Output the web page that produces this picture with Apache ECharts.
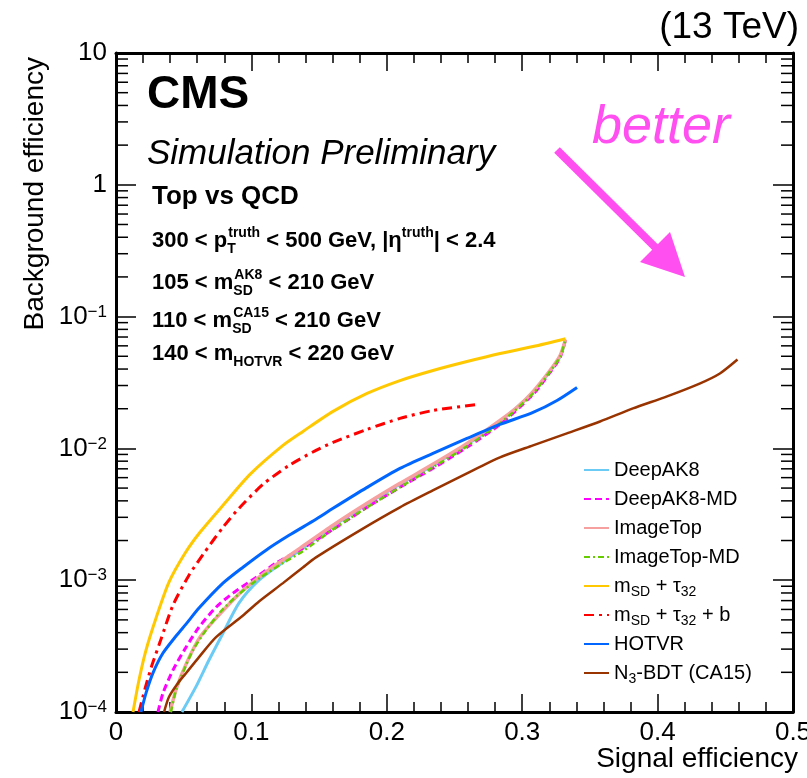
<!DOCTYPE html>
<html>
<head>
<meta charset="utf-8">
<script src="https://cdn.jsdelivr.net/npm/echarts@6/dist/echarts.min.js"></script>
<style>html,body{margin:0;padding:0;background:#fff;}#c{width:807px;height:778px;}</style>
</head>
<body>
<div id="c"></div>
<script>
// ---- data (signal efficiency, background efficiency) ----
const seriesNames = ['DeepAK8','DeepAK8-MD','ImageTop','ImageTop-MD','mSD + τ32','mSD + τ32 + b','HOTVR','N3-BDT (CA15)'];
const deepAK8 = [[0.0487,1.0e-4],[0.059,1.55e-4],[0.0687,2.48e-4],[0.079,3.96e-4],[0.0908,6.7e-4],[0.1056,1.0e-3],[0.1233,1.37e-3],[0.138,1.75e-3],[0.1603,2.57e-3],[0.1854,3.77e-3],[0.2097,5.34e-3],[0.234,7.43e-3],[0.2592,0.0107],[0.2836,0.016],[0.308,0.0266],[0.3205,0.0383],[0.328,0.0497],[0.332,0.067]];
const deepAK8MD = [[0.031,1e-4],[0.0347,1.39e-4],[0.0421,2.08e-4],[0.0517,3.1e-4],[0.0613,4.4e-4],[0.0739,6.24e-4],[0.0864,7.98e-4],[0.1034,1.05e-3],[0.1182,1.35e-3],[0.138,1.75e-3],[0.1603,2.43e-3],[0.1854,3.57e-3],[0.2097,5.07e-3],[0.234,7.05e-3],[0.2592,0.0102],[0.2836,0.0152],[0.308,0.0257],[0.3205,0.0377],[0.328,0.0489],[0.332,0.067]];
const imageTop = [[0.0399,1e-4],[0.045,1.55e-4],[0.0524,2.39e-4],[0.062,3.7e-4],[0.0746,5.25e-4],[0.0916,7.98e-4],[0.1115,1.17e-3],[0.136,1.75e-3],[0.1603,2.61e-3],[0.1854,3.83e-3],[0.2097,5.43e-3],[0.234,7.57e-3],[0.2592,0.0109],[0.2836,0.0163],[0.2962,0.0205],[0.308,0.027],[0.3205,0.039],[0.328,0.0507],[0.332,0.067]];
const imageTopMD = [[0.0406,1e-4],[0.0443,1.47e-4],[0.0502,2.08e-4],[0.0569,2.95e-4],[0.0665,4.18e-4],[0.0783,5.93e-4],[0.0916,7.98e-4],[0.1063,1.04e-3],[0.1233,1.35e-3],[0.138,1.66e-3],[0.1603,2.43e-3],[0.1854,3.57e-3],[0.2097,5.07e-3],[0.234,7.18e-3],[0.2592,0.01036],[0.2836,0.0155],[0.308,0.0261],[0.3205,0.0383],[0.328,0.0497],[0.332,0.067]];
const msdTau32 = [[0.01256,1e-4],[0.01699,1.75e-4],[0.02216,2.95e-4],[0.02954,5.15e-4],[0.03914,9.66e-4],[0.05096,1.60e-3],[0.06204,2.31e-3],[0.07903,3.70e-3],[0.09897,6.35e-3],[0.1233,0.01054],[0.1381,0.01346],[0.1603,0.0191],[0.1854,0.0261],[0.2097,0.0327],[0.2341,0.039],[0.2592,0.0456],[0.2836,0.0525],[0.308,0.0593],[0.332,0.068]];
const msdTau32b = [[0.01699,1e-4],[0.02216,1.60e-4],[0.02659,2.27e-4],[0.0325,3.39e-4],[0.0421,6.46e-4],[0.0539,1.09e-3],[0.0643,1.57e-3],[0.079,2.52e-3],[0.0908,3.51e-3],[0.1086,5.34e-3],[0.1278,7.43e-3],[0.1477,9.66e-3],[0.1603,0.0111],[0.1854,0.01393],[0.2097,0.01688],[0.2341,0.0194],[0.2666,0.0215]];
const hotvr = [[0.01846,1e-4],[0.02216,1.39e-4],[0.02733,1.98e-4],[0.03471,2.80e-4],[0.04431,3.77e-4],[0.0517,4.64e-4],[0.0613,6.14e-4],[0.079,9.49e-4],[0.0938,1.255e-3],[0.1108,1.69e-3],[0.1278,2.19e-3],[0.1477,2.9e-3],[0.1603,3.51e-3],[0.1854,5.06e-3],[0.2097,7.05e-3],[0.2341,9.17e-3],[0.2592,0.0119],[0.2836,0.0152],[0.308,0.01874],[0.3257,0.0231],[0.3405,0.029]];
const n3bdt = [[0.0355,1e-4],[0.0391,1.3e-4],[0.0458,1.66e-4],[0.0517,1.97e-4],[0.0613,2.61e-4],[0.0739,3.7e-4],[0.0938,5.4e-4],[0.1056,6.9e-4],[0.1233,9.5e-4],[0.138,1.25e-3],[0.1477,1.49e-3],[0.1802,2.39e-3],[0.2097,3.57e-3],[0.234,4.8e-3],[0.2592,6.47e-3],[0.2836,8.55e-3],[0.308,0.01054],[0.333,0.013],[0.3575,0.016],[0.3818,0.0201],[0.407,0.0248],[0.431,0.031],[0.446,0.037],[0.459,0.0472]];
const xTickLabels = ['0','0.1','0.2','0.3','0.4','0.5'];
const yDecades = [-4,-3,-2,-1,0,1];
const yMinorMultipliers = [2,3,4,5,6,7,8,9];

const FONT = "'Liberation Sans', Arial, Helvetica, sans-serif";
const PINK = '#ff4ff0';

const minorTickValues = [];
yDecades.slice(0, -1).forEach(function (d) {
  yMinorMultipliers.forEach(function (m) { minorTickValues.push([0, m * Math.pow(10, d)]); });
});

const chart = echarts.init(document.getElementById('c'), null, {renderer: 'canvas'});

function yLabel(v) {
  const e = Math.round(Math.log10(v));
  if (e === 1) return '{b|10}';
  if (e === 0) return '{b|1}';
  return '{b|10}{s|\u2212' + (-e) + '}';
}

const axisCommon = {
  axisLine: {show: true, onZero: false, lineStyle: {color: '#000', width: 3}},
  splitLine: {show: false}
};

const lineSeries = [
  {name: seriesNames[0], data: deepAK8, color: '#6ccbf5', width: 3, type: 'solid'},
  {name: seriesNames[1], data: deepAK8MD, color: '#ff00ff', width: 3, type: [7, 4]},
  {name: seriesNames[2], data: imageTop, color: '#f7a0a0', width: 3.5, type: 'solid'},
  {name: seriesNames[3], data: imageTopMD, color: '#66cc00', width: 2.5, type: [6, 3, 2, 3]},
  {name: seriesNames[4], data: msdTau32, color: '#ffc800', width: 3, type: 'solid'},
  {name: seriesNames[5], data: msdTau32b, color: '#ff0000', width: 3, type: [10, 5, 3, 5]},
  {name: seriesNames[6], data: hotvr, color: '#0066ff', width: 3, type: 'solid'},
  {name: seriesNames[7], data: n3bdt, color: '#993300', width: 2.5, type: 'solid'}
].map(function (s) {
  return {
    name: s.name, type: 'line', data: s.data, xAxisIndex: 0, yAxisIndex: 0,
    symbol: 'none', smooth: 0.25, color: s.color, clip: true,
    lineStyle: {color: s.color, width: s.width, type: s.type},
    itemStyle: {color: s.color}, z: 3
  };
});

function renderMinor(params, api) {
  const v = api.value(1);
  const pl = api.coord([0, v]);
  const pr = api.coord([0.5, v]);
  return {
    type: 'group', children: [
      {type: 'line', shape: {x1: pl[0], y1: pl[1], x2: pl[0] + 12, y2: pl[1]}, style: {stroke: '#000', lineWidth: 1.5}},
      {type: 'line', shape: {x1: pr[0] - 12, y1: pr[1], x2: pr[0], y2: pr[1]}, style: {stroke: '#000', lineWidth: 1.5}}
    ]
  };
}

const legendRich = {
  sb: {fontSize: 14, fontFamily: FONT, color: '#000', verticalAlign: 'bottom', lineHeight: 12}
};
function legendFmt(name) {
  if (name === 'mSD + τ32') return 'm{sb|SD} + τ{sb|32}';
  if (name === 'mSD + τ32 + b') return 'm{sb|SD} + τ{sb|32} + b';
  if (name === 'N3-BDT (CA15)') return 'N{sb|3}-BDT (CA15)';
  return name;
}

const annRich = {
  n: {fontSize: 22, fontWeight: 'bold', fontFamily: FONT, color: '#000', lineHeight: 30},
  sp: {fontSize: 14, fontWeight: 'bold', fontFamily: FONT, color: '#000', verticalAlign: 'top', lineHeight: 8},
  sb: {fontSize: 14, fontWeight: 'bold', fontFamily: FONT, color: '#000', verticalAlign: 'bottom', lineHeight: 18},
  sbT: {fontSize: 14, fontWeight: 'bold', fontFamily: FONT, color: '#000', verticalAlign: 'bottom', lineHeight: 18, width: 1}
};
function ann(y, text) {
  return {type: 'text', left: 152, top: y, z: 10, style: {text: text, rich: annRich, fontFamily: FONT}};
}

const option = {
  backgroundColor: '#fff',
  animation: false,
  grid: {left: 116, right: 14, top: 53, bottom: 66, containLabel: false, outerBoundsMode: 'none'},
  xAxis: [
    Object.assign({}, axisCommon, {
      type: 'value', position: 'bottom', min: 0, max: 0.5, interval: 0.1,
      axisTick: {show: true, inside: true, length: 18, lineStyle: {color: '#000', width: 1.5}},
      minorTick: {show: true, splitNumber: 5, length: 10, lineStyle: {color: '#000', width: 1.5}},
      axisLabel: {show: true, margin: 8, fontSize: 26, fontFamily: FONT, color: '#000',
        formatter: function (v) { return xTickLabels[Math.round(v * 10)]; }}
    }),
    Object.assign({}, axisCommon, {
      type: 'value', position: 'top', min: 0, max: 0.5, interval: 0.1,
      axisTick: {show: true, inside: true, length: 18, lineStyle: {color: '#000', width: 1.5}},
      minorTick: {show: true, splitNumber: 5, length: 10, lineStyle: {color: '#000', width: 1.5}},
      axisLabel: {show: false}
    })
  ],
  yAxis: [
    Object.assign({}, axisCommon, {
      type: 'log', logBase: 10, position: 'left', min: 1e-4, max: 10,
      axisTick: {show: true, inside: true, length: 20, lineStyle: {color: '#000', width: 1.5}},
      minorTick: {show: false},
      axisLabel: {show: true, margin: 9, fontFamily: FONT, color: '#000', formatter: yLabel,
        rich: {
          b: {fontSize: 26, fontFamily: FONT, color: '#000', lineHeight: 26},
          s: {fontSize: 17, fontFamily: FONT, color: '#000', verticalAlign: 'top', lineHeight: 14}
        }}
    }),
    Object.assign({}, axisCommon, {
      type: 'log', logBase: 10, position: 'right', min: 1e-4, max: 10,
      axisTick: {show: true, inside: true, length: 20, lineStyle: {color: '#000', width: 1.5}},
      minorTick: {show: false},
      axisLabel: {show: false}
    })
  ],
  legend: {
    data: seriesNames, orient: 'vertical', left: 583, top: 457, padding: 0,
    itemWidth: 25, itemHeight: 14, itemGap: 3, selectedMode: false,
    itemStyle: {opacity: 0},
    formatter: legendFmt,
    textStyle: {fontSize: 20, fontFamily: FONT, color: '#000', lineHeight: 26, rich: legendRich}
  },
  series: lineSeries.concat([{
    type: 'custom', name: 'minorTicks', xAxisIndex: 0, yAxisIndex: 0,
    data: minorTickValues, renderItem: renderMinor, silent: true, clip: false, z: 5
  }]),
  graphic: [
    {type: 'text', right: 8, top: 9, z: 10, style: {text: '(13 TeV)', fontSize: 37, fontFamily: FONT, fill: '#000'}},
    {type: 'text', x: 147, y: 95, z: 10, style: {text: 'CMS', fontSize: 46, fontWeight: 'bold', fontFamily: FONT, fill: '#000', verticalAlign: 'middle'}},
    {type: 'text', x: 147, y: 154, z: 10, style: {text: 'Simulation Preliminary', fontSize: 35, fontStyle: 'italic', fontFamily: FONT, fill: '#000', verticalAlign: 'middle'}},
    {type: 'text', x: 152, y: 197, z: 10, style: {text: 'Top vs QCD', fontSize: 26, fontWeight: 'bold', fontFamily: FONT, fill: '#000', verticalAlign: 'middle'}},
    ann(226, '{n|300 < p}{sbT|T}{sp|truth}{n| < 500 GeV, |η}{sp|truth}{n|| < 2.4}'),
    ann(268, '{n|105 < m}{sbT|SD}{sp|AK8}{n| < 210 GeV}'),
    ann(306, '{n|110 < m}{sbT|SD}{sp|CA15}{n| < 210 GeV}'),
    ann(343, '{n|140 < m}{sb|HOTVR}{n| < 220 GeV}'),
    {type: 'text', x: 592, y: 128, z: 10, style: {text: 'better', fontSize: 54, fontStyle: 'italic', fontFamily: FONT, fill: PINK, verticalAlign: 'middle'}},
    {type: 'line', z: 10, shape: {x1: 557, y1: 150, x2: 658, y2: 250}, style: {stroke: PINK, lineWidth: 8}},
    {type: 'polygon', z: 10, shape: {points: [[685, 277], [670, 232], [640, 262]]}, style: {fill: PINK}},
    {type: 'text', x: 798, y: 759, z: 10, style: {text: 'Signal efficiency', fontSize: 28, fontFamily: FONT, fill: '#000', align: 'right', verticalAlign: 'middle'}},
    {type: 'text', x: 35, y: 57, rotation: Math.PI / 2, z: 10, style: {text: 'Background efficiency', fontSize: 28, fontFamily: FONT, fill: '#000', align: 'right', verticalAlign: 'middle'}}
  ]
};
chart.setOption(option);
</script>
</body>
</html>
